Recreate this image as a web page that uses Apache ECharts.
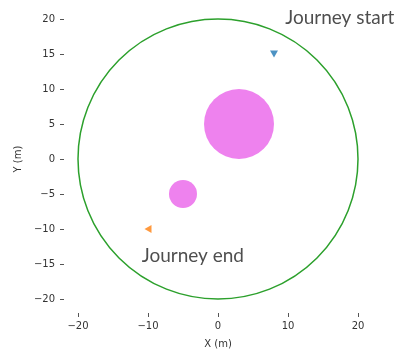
<!DOCTYPE html>
<html>
<head>
<meta charset="utf-8">
<script src="https://cdn.jsdelivr.net/npm/echarts@6/dist/echarts.min.js"></script>
<style>
  html, body { margin: 0; padding: 0; background: #fff; }
  #chart { width: 398px; height: 352px; }
</style>
</head>
<body>
<div id="chart"></div>
<script>
// Boundary of the area: [cx, cy, r]
const boundary = [[0, 0, 20]];
// Obstacles: [cx, cy, r]
const obstacles = [[3, 5, 5], [-5, -5, 2]];
// Journey endpoints
const startPoint = [[8, 15]];
const endPoint = [[-10, -10]];
// Annotation anchors: [x, y, text]
const annotations = [[9.6, 20.1, 'Journey start'], [-10.9, -13.8, 'Journey end']];
// Axis ranges and ticks
const axisMin = -20, axisMax = 20;
const xTickStep = 10, yTickStep = 5;

const tickFont = { fontFamily: 'DejaVu Sans', fontSize: 10, color: '#333' };
const minusFmt = v => String(v).replace('-', '\u2212');

function circleItem(fill, stroke, lineWidth) {
  return function (params, api) {
    const c = api.coord([api.value(0), api.value(1)]);
    const r = api.size([api.value(2), 0])[0];
    return {
      type: 'circle',
      shape: { cx: c[0], cy: c[1], r: r },
      style: { fill: fill, stroke: stroke, lineWidth: lineWidth }
    };
  };
}

const chart = echarts.init(document.getElementById('chart'), null, { renderer: 'canvas' });
chart.setOption({
  animation: false,
  grid: { left: 78, right: 40, top: 19, bottom: 53, outerBoundsMode: 'none' },
  xAxis: {
    type: 'value', min: axisMin, max: axisMax, interval: xTickStep,
    offset: 14,
    name: 'X (m)', nameLocation: 'middle', nameGap: 26,
    nameTextStyle: tickFont,
    axisLine: { show: false, onZero: false },
    axisTick: { show: true, length: 4, lineStyle: { color: '#555' } },
    axisLabel: Object.assign({ margin: 8, formatter: minusFmt }, tickFont),
    splitLine: { show: false }
  },
  yAxis: {
    type: 'value', min: axisMin, max: axisMax, interval: yTickStep,
    offset: 14,
    name: 'Y (m)', nameLocation: 'middle', nameGap: 40,
    nameTextStyle: tickFont,
    axisLine: { show: false, onZero: false },
    axisTick: { show: true, length: 4, lineStyle: { color: '#555' } },
    axisLabel: Object.assign({ margin: 9, formatter: minusFmt }, tickFont),
    splitLine: { show: false }
  },
  series: [
    {
      type: 'custom', data: boundary, z: 2, clip: false,
      renderItem: circleItem(null, '#2ca02c', 1.5)
    },
    {
      type: 'custom', data: obstacles, z: 3,
      renderItem: circleItem('#ee82ee', null, 0)
    },
    {
      type: 'scatter', data: startPoint, symbol: 'triangle', symbolRotate: 180,
      symbolSize: [8, 7], itemStyle: { color: '#1f77b4' }, z: 4
    },
    {
      type: 'scatter', data: endPoint, symbol: 'triangle', symbolRotate: 90,
      symbolSize: [8, 7], itemStyle: { color: '#ff7f0e' }, z: 4
    },
    {
      type: 'scatter', data: annotations, symbolSize: 0, z: 5, clip: false,
      label: {
        show: true, position: 'right', distance: 0,
        formatter: p => p.value[2],
        fontFamily: 'Lato', fontSize: 19, color: '#222'
      }
    }
  ]
});
</script>
</body>
</html>
